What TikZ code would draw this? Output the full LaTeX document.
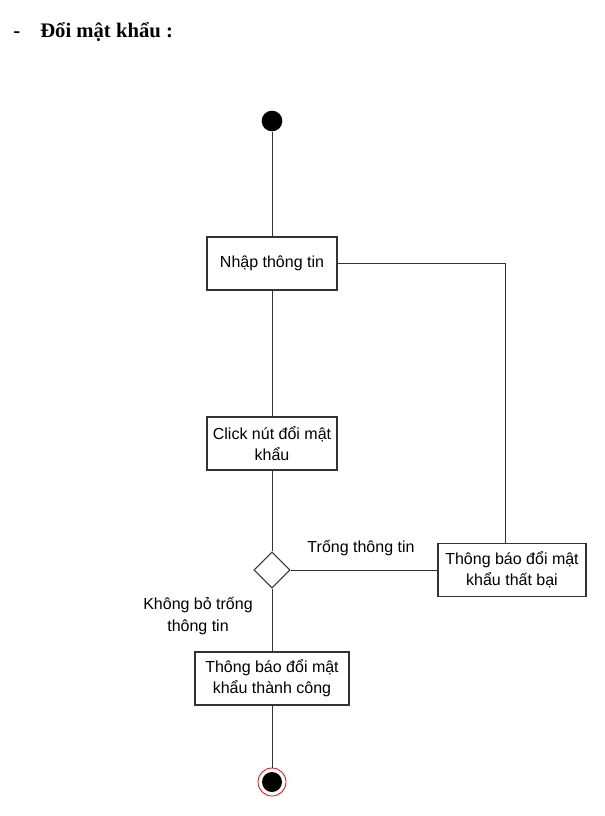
\documentclass[tikz,border=0pt]{standalone}
\usepackage{fontspec}
\setmainfont{Liberation Sans}
\newfontfamily\titlefont{Liberation Serif}
\usetikzlibrary{shapes.geometric}
\definecolor{lc}{HTML}{333333}
\begin{document}
\begin{tikzpicture}[x=0.75pt,y=-0.75pt,
  box/.style={draw=lc,line width=0.8pt,rectangle,minimum height=53*0.75pt,inner sep=2pt,align=center,font=\fontsize{12}{16}\selectfont},
  lbl/.style={align=center,font=\fontsize{12}{16}\selectfont},
  conn/.style={draw=lc,line width=0.75pt}]
\useasboundingbox (0,0) rectangle (604,816);
\node[anchor=base west,font=\titlefont\bfseries\fontsize{15.5}{18}\selectfont,inner sep=0pt] (dash) at (13,38) {-};
\node[anchor=base west,font=\titlefont\bfseries\fontsize{15.5}{18}\selectfont,inner sep=0pt] (title) at (40,38) {Đổi mật khẩu :};
\node[circle,fill=black,minimum size=15.5pt,inner sep=0pt] (start) at (272,121) {};
\node[box,minimum width=130*0.75pt] (nhap) at (272,263.5) {Nhập thông tin};
\node[box,minimum width=130*0.75pt] (click) at (272,443.5) {Click nút đổi mật\\khẩu};
\node[diamond,draw=lc,line width=0.8pt,minimum size=27pt,inner sep=0pt] (dec) at (272,570) {};
\node[box,minimum width=148*0.75pt] (fail) at (512,570) {Thông báo đổi mật\\khẩu thất bại};
\node[box,minimum width=154*0.75pt] (ok) at (272,678.5) {Thông báo đổi mật\\khẩu thành công};
\node[circle,draw=red,line width=0.6pt,minimum size=21pt,inner sep=0pt] (end) at (272,782) {};
\node[circle,fill=black,minimum size=15pt,inner sep=0pt] (endin) at (272,782) {};
\node[lbl] (ltrong) at (361,548) {Trống thông tin};
\node[lbl] (lkhong) at (198,616) {Không bỏ trống\\thông tin};
\coordinate (corner) at (505,263.5);
\draw[conn] (start) -- (nhap);
\draw[conn] (nhap) -- (click);
\draw[conn] (click) -- (dec.north);
\draw[conn] (dec.east) -- (fail.west);
\draw[conn] (fail.north -| corner) -- (corner) -- (nhap.east);
\draw[conn] (dec.south) -- (ok.north);
\draw[conn] (ok.south) -- (end.north);
\end{tikzpicture}
\end{document}
